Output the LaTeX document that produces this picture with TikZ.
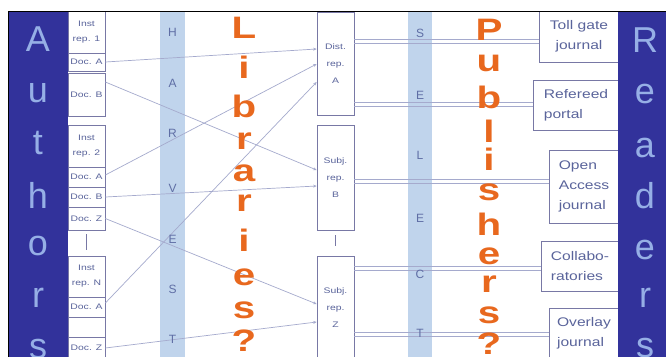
\documentclass[tikz,border=0pt]{standalone}
\usepackage{fontspec}
\setmainfont{Liberation Sans}
\usepackage{graphicx}
\usetikzlibrary{arrows.meta}
\definecolor{darkcol}{RGB}{50,50,155}
\definecolor{lightlet}{RGB}{150,175,230}
\definecolor{bandc}{RGB}{192,212,236}
\definecolor{bandlet}{RGB}{95,110,165}
\definecolor{orangec}{RGB}{232,104,30}
\definecolor{boxc}{RGB}{120,120,165}
\definecolor{boxtext}{RGB}{90,100,155}
\definecolor{linkc}{RGB}{165,170,205}
\newcommand\sx[1]{\scalebox{1.3}[1]{#1}}
\newcommand\sr[1]{\scalebox{1.25}[1]{#1}}
\newcommand\so[1]{\scalebox{1.3}[1]{#1}}
\begin{document}
\begin{tikzpicture}[x=1pt,y=-1pt,
  lrow/.style={draw=boxc, line width=0.7pt, fill=white, inner sep=0pt, minimum width=37pt,
    text=boxtext, font=\fontsize{8}{15}\selectfont, align=center},
  mbox/.style={draw=boxc, line width=0.7pt, fill=white, inner sep=0pt, minimum width=37pt,
    text=boxtext, font=\fontsize{8}{17}\selectfont, align=center},
  rbox/.style={draw=boxc, line width=0.7pt, fill=white, inner sep=0pt,
    text=boxtext, font=\fontsize{12.5}{20}\selectfont, align=left},
  bigl/.style={text=lightlet, font=\fontsize{36}{36}\selectfont, inner sep=0pt},
  orl/.style={text=orangec, font=\fontsize{31}{31}\selectfont\bfseries, inner sep=0pt},
  bandl/.style={text=bandlet, font=\fontsize{12}{12}\selectfont, inner sep=0pt},
  llink/.style={draw=linkc, line width=0.7pt, -{Stealth[length=3.5pt,width=3pt]}},
  rlink/.style={draw=linkc, line width=0.6pt},
  dots/.style={draw=boxc, line width=0.6pt}]
\useasboundingbox (0,0) rectangle (666,356);
\clip (0,0) rectangle (666,356);
\fill[white] (0,0) rectangle (666,356);
% columns and bands
\fill[darkcol] (8,11) rectangle (68,360);
\fill[bandc] (160,11.5) rectangle (185,360);
\fill[bandc] (408,11.5) rectangle (432,360);
% left rows
\node[lrow, minimum height=42pt] (r1i) at (86.5,32) {\sx{Inst}\\\sx{rep. 1}};
\node[lrow, minimum height=18pt] (r1a) at (86.5,62) {\sx{Doc. A}};
\node[lrow, minimum height=43pt] (r1b) at (86.5,94.5) {\sx{Doc. B}};
\node[lrow, minimum height=42pt] (r2i) at (86.5,146) {\sx{Inst}\\\sx{rep. 2}};
\node[lrow, minimum height=20pt] (r2a) at (86.5,177) {\sx{Doc. A}};
\node[lrow, minimum height=20pt] (r2b) at (86.5,197) {\sx{Doc. B}};
\node[lrow, minimum height=23pt] (r2z) at (86.5,218.5) {\sx{Doc. Z}};
\node[lrow, minimum height=41pt] (r3i) at (86.5,276.5) {\sx{Inst}\\\sx{rep. N}};
\node[lrow, minimum height=20pt] (r3a) at (86.5,307) {\sx{Doc. A}};
\node[lrow, minimum height=20pt] (r3e) at (86.5,327) {};
\node[lrow, minimum height=22pt] (r3z) at (86.5,348) {\sx{Doc. Z}};
% middle boxes
\node[mbox, minimum height=103pt] (distA) at (335.5,63.5) {\sx{Dist.}\\\sx{rep.}\\\sx{A}};
\node[mbox, minimum height=105pt] (subjB) at (335.5,177.5) {\sx{Subj.}\\\sx{rep.}\\\sx{B}};
\node[mbox, minimum height=104pt] (subjZ) at (335.5,308) {\sx{Subj.}\\\sx{rep.}\\\sx{Z}};
% right boxes
\node[rbox, minimum width=80pt, minimum height=51pt, align=center] (toll) at (579,36.5) {\sr{Toll gate}\\\sr{journal}};
\node[rbox, minimum width=86pt, minimum height=50pt] (refp) at (576,105) {\sr{Refereed}\\\sr{portal}};
\node[rbox, minimum width=70pt, minimum height=73pt] (open) at (584,186.5) {\sr{Open}\\\sr{Access}\\\sr{journal}};
\node[rbox, minimum width=78pt, minimum height=50pt] (coll) at (580,266) {\sr{Collabo-}\\\sr{ratories}};
\node[rbox, minimum width=70pt, minimum height=51pt] (over) at (584,333.5) {\sr{Overlay}\\\sr{journal}};
\fill[darkcol] (618,11) rectangle (666,360);
% ellipses
\draw[dots, shorten <=4pt, shorten >=6pt] (r2z.south) -- (r3i.north);
\draw[dots, shorten <=5pt, shorten >=10pt] (subjB.south) -- (subjZ.north);
% left links
\draw[llink] (r1a.east) -- (distA.west |- 0,49);
\draw[llink] (r1b.east |- 0,82) -- (subjB.west |- 0,170);
\draw[llink] (r2a.east |- 0,175) -- (distA.west |- 0,64);
\draw[llink] (r2b.east) -- (subjB.west |- 0,186);
\draw[llink] (r2z.east) -- (subjZ.west |- 0,304);
\draw[llink] (r3a.east |- 0,303) -- (distA.west |- 0,82);
\draw[llink] (r3z.east) -- (subjZ.west |- 0,322);
% right links (double)
\foreach \a/\b/\y in {distA/toll/41.5, distA/refp/104.5, subjB/open/181.5, subjZ/coll/268.5, subjZ/over/334.5}{
  \draw[rlink] (\a.east |- 0,\y-2) -- (\b.west |- 0,\y-2);
  \draw[rlink] (\a.east |- 0,\y+2) -- (\b.west |- 0,\y+2);
}
% frame
\draw[black, line width=0.9pt] (8,360) -- (8,11) -- (666,11);
% Authors
\foreach \c/\y [count=\i] in {A/39,u/93,t/143,h/195,o/246,r/298,s/349}{
  \node[bigl] (au\i) at (38,\y) {\c};
}
% Readers
\foreach \c/\y [count=\i] in {R/40,e/94,a/148,d/196,e/250,r/298,s/348}{
  \node[bigl] (re\i) at (645,\y) {\c};
}
% HARVEST
\foreach \c/\y [count=\i] in {H/32,A/83,R/133,V/188,E/239,S/289,T/339}{
  \node[bandl] (hv\i) at (172.5,\y) {\c};
}
% SELECT
\foreach \c/\y [count=\i] in {S/33,E/95,L/155,E/218,C/274,T/333}{
  \node[bandl] (se\i) at (420,\y) {\c};
}
% Libraries?
\foreach \c/\y [count=\i] in {L/28,i/67,b/106,r/141,a/173,r/203,i/240,e/277,s/310,?/341}{
  \node[orl] (li\i) at (244,\y) {\so{\c}};
}
% Publishers?
\foreach \c/\y [count=\i] in {P/30,u/63,b/97,l/131,i/159,s/192,h/224,e/256,r/284,s/315,?/344}{
  \node[orl] (pu\i) at (489,\y) {\so{\c}};
}
\end{tikzpicture}
\end{document}
